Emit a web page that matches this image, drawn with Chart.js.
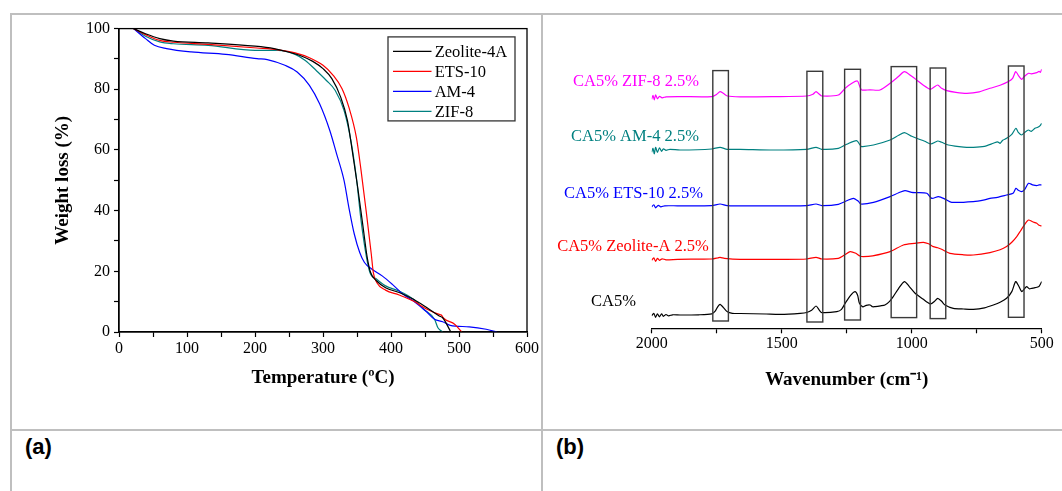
<!DOCTYPE html>
<html lang="en">
<head>
<meta charset="utf-8">
<title>TGA / FTIR</title>
<script src="https://cdn.jsdelivr.net/npm/chart.js@4.4.1/dist/chart.umd.min.js"></script>
<style>
body {margin:0; background:#fff; width:1062px; height:491px; overflow:hidden; position:relative;}
.rule {position:absolute; background:#bfbfbf;}
.tag {position:absolute; font:bold 22px 'Liberation Sans', Arial, sans-serif; line-height:22px;}
canvas {position:absolute;}
</style>
</head>
<body>
<!-- table lines -->
<div class="rule" style="left:10px;top:13px;width:1052px;height:2px"></div>
<div class="rule" style="left:10px;top:13px;width:2px;height:478px"></div>
<div class="rule" style="left:541px;top:13px;width:2px;height:478px"></div>
<div class="rule" style="left:10px;top:429px;width:1052px;height:2px"></div>
<div class="tag" style="left:25px;top:436px">(a)</div>
<div class="tag" style="left:556px;top:436px">(b)</div>

<canvas id="tga" width="529" height="414" style="left:12px;top:15px"></canvas>
<canvas id="ftir" width="519" height="414" style="left:543px;top:15px"></canvas>

<script>
// ---- (a) TGA : [temperature, weight %]
const tgaNames = ['Zeolite-4A', 'ETS-10', 'AM-4', 'ZIF-8'];
const zeolite4A = [[21.5,100],[39,98.3],[60,96.7],[80,95.9],[131,95.3],[200,94.2],[228,93.4],[249,92.3],[269,90.9],[285,89.2],[300,86.8],[313,83.5],[326,77.4],[336,69.7],[343,59.8],[351,47.7],[359,34.5],[365,24.6],[370,19.6],[379,16.8],[392,14.6],[412,13],[433,10.8],[453,8],[471,5.3],[476,4.7],[488,0]];
const ets10 = [[21.5,100],[39,98],[60,96.1],[80,95.5],[131,94.8],[203,93.6],[234,93],[259,92],[280,90.4],[300,87.9],[315,84.6],[328,80.2],[338,74.1],[349,64.2],[356,53.2],[364,38.9],[371,25.7],[374,19.6],[379,16.3],[392,13.8],[412,12.2],[433,10.2],[453,7.5],[471,5.8],[474,5.6],[477,4.6],[494,2.5],[504,0]];
const am4 = [[21.5,100],[39,96.7],[52,94.5],[70,93.4],[106,92.3],[157,91.5],[203,90.1],[218,89.8],[244,87.9],[262,85.7],[280,81.3],[295,75.2],[310,66.4],[320,58.7],[331,49.9],[338,41.1],[346,32.3],[354,26.2],[361,22.9],[372,20.7],[387,18.5],[402,15.7],[418,12.4],[433,10.2],[451,6.9],[464,4.2],[476,3.4],[487,2.2],[515,1.7],[540,0.9],[556,0]];
const zif8 = [[21.5,100],[39,97.5],[60,95.6],[80,95],[131,94.5],[200,92.8],[234,92.8],[259,91.5],[274,89.5],[290,86.2],[305,82.9],[318,79.6],[331,73],[341,63.1],[349,51],[356,36.7],[364,24.6],[369,19.6],[379,17.4],[392,15.2],[412,13.5],[433,10.8],[448,7.5],[464,4.2],[469,1.4],[476,0]];
const tgaColors = ['#000000', '#ff0000', '#0000ff', '#008080'];

// ---- (b) FTIR : [wavenumber, offset absorbance (a.u.)]
const irNames = ['CA5%', 'CA5% Zeolite-A 2.5%', 'CA5% ETS-10 2.5%', 'CA5% AM-4 2.5%', 'CA5% ZIF-8 2.5%'];
const irCA5 = [[2000,12.5],[1992,15],[1985,11],[1978,14.5],[1970,11.5],[1962,14.5],[1955,12],[1945,13.8],[1935,12.5],[1920,13.5],[1891,13.3],[1820,13.5],[1769,14.5],[1755,17.5],[1745,22],[1737,24],[1725,21],[1709,16.5],[1690,15],[1660,14.8],[1560,14.3],[1506,14],[1429,15],[1404,15.8],[1385,18],[1368,22.3],[1355,18],[1346,15.7],[1288,16.7],[1270,19],[1256,25],[1235,33],[1218,36.7],[1208,33],[1201,25],[1188,21.5],[1175,23],[1160,23.3],[1150,21.5],[1141,21.7],[1120,22.5],[1103,23.3],[1085,27],[1071,31.7],[1050,40],[1028,46.7],[1010,42],[987,35],[955,29],[940,26],[927,24.3],[912,27],[900,30],[885,27],[872,23.3],[840,20],[800,19.3],[763,19],[720,20.5],[686,23.3],[660,26],[635,30],[615,36.7],[600,46.7],[588,42],[577,36.7],[568,39],[558,41.7],[548,39.5],[538,40],[528,40.5],[519,41],[510,42],[500,46.7]];
const irZeoA = [[2000,68],[1992,70.5],[1985,67],[1978,70],[1970,68],[1960,69.5],[1945,68.5],[1900,69],[1769,69.3],[1745,70.5],[1737,71],[1720,70],[1660,69],[1500,69],[1404,69.3],[1368,71],[1346,69.3],[1282,70],[1260,73],[1237,76.7],[1215,75],[1199,72.3],[1186,71.7],[1150,72.5],[1083,76.7],[1032,83.3],[990,85],[955,86],[935,84.5],[917,81.7],[900,80.5],[885,79],[853,75],[800,73.5],[763,73.3],[699,75.7],[660,78.5],[635,81.7],[615,86],[596,91.7],[580,98],[565,104],[551,108.3],[535,106.5],[519,105],[510,103],[500,102.3]];
const irETS = [[2000,121.5],[1992,123.5],[1985,120.5],[1975,123],[1965,121.5],[1950,122.5],[1900,122.5],[1769,122.7],[1737,124.3],[1710,122.7],[1660,122.5],[1500,122.5],[1404,122.7],[1368,124.3],[1346,122.7],[1282,124],[1250,127.5],[1224,130],[1205,127],[1196,124.3],[1147,126],[1083,131.7],[1050,135.5],[1026,137.7],[1000,136],[981,135.7],[942,135],[923,130],[897,131.7],[870,129],[846,126],[763,126.7],[720,128.5],[699,130],[670,131],[635,133.3],[610,135],[599,140],[590,138],[577,136.7],[565,139],[551,145],[535,143.5],[519,142.7],[510,143.5],[500,143.3]];
const irAM4 = [[2000,176],[1995,180],[1990,174.5],[1985,181],[1978,176],[1970,180.5],[1962,177],[1955,179.5],[1945,178],[1930,179],[1891,178.3],[1769,179.3],[1737,181],[1710,179],[1660,179],[1532,178.3],[1404,179],[1368,181],[1346,179],[1282,180],[1250,184],[1212,187.7],[1195,182],[1188,181.7],[1147,183.3],[1083,188.3],[1050,193],[1028,195.7],[1000,192],[981,190],[950,187],[927,184.3],[900,187.3],[885,186],[859,183.3],[800,181.2],[763,181],[720,182],[686,185],[670,186.5],[660,185],[650,188],[635,190],[615,194],[599,200],[590,196],[577,193.3],[565,196],[551,198.3],[540,197],[526,200],[515,201],[505,203],[500,205]];
const irZIF8 = [[2000,229],[1995,233],[1990,228.5],[1985,233.5],[1978,229.5],[1970,232],[1960,230.5],[1945,231.5],[1891,231.7],[1769,231.7],[1750,234],[1737,236.7],[1725,235],[1709,232.3],[1660,231.5],[1532,231.7],[1404,232.3],[1380,234],[1368,236.7],[1355,234],[1346,232.3],[1282,233.3],[1256,240],[1230,245],[1209,247.3],[1200,242],[1192,238.3],[1160,238.5],[1122,238.3],[1083,245],[1050,252],[1028,256.7],[1000,252],[981,248.3],[955,243],[929,239],[915,241],[900,243.3],[885,240],[865,237.7],[830,236],[788,235],[740,236.5],[699,240],[660,243],[628,246.7],[612,250],[600,256.7],[590,253],[577,249],[568,251.5],[551,255],[540,254.5],[519,255.7],[510,257],[505,256],[500,259]];
const irColors = ['#000000', '#ff0000', '#0000ff', '#008080', '#ff00ff'];
// name of each spectrum sits at this level (same units as spectra)
const irNameLevels = [26.6, 81.6, 135, 191.6, 246.6];
// highlighted bands : [from, to] wavenumber, and height of each frame
const bandEdges = [[1765,1705],[1403,1342],[1258,1197],[1079,981],[929,869],[628,568]];
const bandTop = [257.7, 257, 259, 261.7, 260.3, 262.3];
const bandBottom = [7.3, 6.3, 8.3, 10.7, 9.7, 11];

Chart.defaults.font.family = "'Liberation Serif', 'Times New Roman', serif";
Chart.defaults.color = '#000';

function toXY(arr) {
	return arr.map(function (p) { return {x: p[0], y: p[1]}; });
}

// frame all round the plot of (a)
const boxFrame = {
	id: 'boxFrame',
	afterDraw(chart) {
		const a = chart.chartArea, ctx = chart.ctx;
		ctx.save();
		ctx.strokeStyle = '#000';
		ctx.lineWidth = 1.3;
		ctx.strokeRect(a.left, a.top, a.right - a.left, a.bottom - a.top);
		ctx.restore();
	}
};

// legend drawn inside the plot with a box
const boxLegend = {
	id: 'boxLegend',
	afterDraw(chart) {
		const a = chart.chartArea, ctx = chart.ctx;
		const w = 127, h = 84;
		const left = a.right - 12 - w, top = a.top + 8.3;
		ctx.save();
		ctx.fillStyle = '#fff';
		ctx.fillRect(left, top, w, h);
		ctx.strokeStyle = '#333';
		ctx.lineWidth = 1.3;
		ctx.strokeRect(left, top, w, h);
		ctx.font = "16.5px 'Liberation Serif'";
		ctx.textBaseline = 'middle';
		chart.data.datasets.forEach(function (ds, i) {
			const y = top + 14.5 + i * 20;
			ctx.strokeStyle = ds.borderColor;
			ctx.lineWidth = 1.3;
			ctx.beginPath();
			ctx.moveTo(left + 5, y);
			ctx.lineTo(left + 43.5, y);
			ctx.stroke();
			ctx.fillStyle = '#000';
			ctx.fillText(ds.label, left + 46.7, y + 1);
		});
		ctx.restore();
	}
};

// band frames and spectrum names for (b)
const bandFrames = {
	id: 'bandFrames',
	afterDraw(chart) {
		const ctx = chart.ctx, x = chart.scales.x, y = chart.scales.y;
		ctx.save();
		ctx.strokeStyle = '#3a3a3a';
		ctx.lineWidth = 1.4;
		bandEdges.forEach(function (b, i) {
			const x1 = x.getPixelForValue(b[0]), x2 = x.getPixelForValue(b[1]);
			const y1 = y.getPixelForValue(bandTop[i]), y2 = y.getPixelForValue(bandBottom[i]);
			ctx.strokeRect(x1, y1, x2 - x1, y2 - y1);
		});
		ctx.font = "16.5px 'Liberation Serif'";
		ctx.textAlign = 'center';
		ctx.textBaseline = 'middle';
		const shift = [38.2, 18.7, 18.2, 16.7, 15.7];
		chart.data.datasets.forEach(function (ds, i) {
			ctx.fillStyle = ds.borderColor;
			ctx.fillText(ds.label, chart.chartArea.left - shift[i], y.getPixelForValue(irNameLevels[i]));
		});
		ctx.restore();
	}
};

var tgaSeries = [zeolite4A, ets10, am4, zif8];
new Chart(document.getElementById('tga').getContext('2d'), {
	type: 'line',
	data: {
		datasets: tgaSeries.map(function (s, i) {
			return {label: tgaNames[i], data: toXY(s), borderColor: tgaColors[i], borderWidth: 1.2,
				pointRadius: 0, cubicInterpolationMode: 'monotone'};
		})
	},
	options: {
		responsive: false,
		animation: false,
		layout: {padding: {top: 12.7, right: 13, left: 0, bottom: 0}},
		plugins: {legend: {display: false}, tooltip: {enabled: false}},
		scales: {
			x: {
				type: 'linear', min: 0, max: 600,
				afterFit: function (s) { s.height = 97; },
				ticks: {stepSize: 50, autoSkip: false, maxRotation: 0, padding: 2, font: {size: 16},
					callback: function (v) { return v % 100 === 0 ? v : ''; }},
				grid: {drawOnChartArea: false, tickLength: 5, tickColor: '#000', tickWidth: 1.2},
				border: {color: '#000', width: 1.3},
				title: {display: true, text: 'Temperature (ºC)', font: {size: 19, weight: 'bold'}, padding: {top: 0, bottom: 39.6}}
			},
			y: {
				min: 0, max: 100,
				afterFit: function (s) { s.width = 107; },
				ticks: {stepSize: 10, autoSkip: false, padding: 4, font: {size: 16},
					callback: function (v) { return v % 20 === 0 ? v : ''; }},
				grid: {drawOnChartArea: false, tickLength: 5, tickColor: '#000', tickWidth: 1.2},
				border: {color: '#000', width: 1.3},
				title: {display: true, text: 'Weight loss (%)', font: {size: 19, weight: 'bold'}, padding: {top: 39.9, bottom: 0}}
			}
		}
	},
	plugins: [boxFrame, boxLegend]
});

var irSeries = [irCA5, irZeoA, irETS, irAM4, irZIF8];
new Chart(document.getElementById('ftir').getContext('2d'), {
	type: 'line',
	data: {
		datasets: irSeries.map(function (s, i) {
			return {label: irNames[i], data: toXY(s), borderColor: irColors[i], borderWidth: 1.2,
				pointRadius: 0, tension: 0.25};
		})
	},
	options: {
		responsive: false,
		animation: false,
		layout: {padding: {top: 13.3, right: 20.3, left: 108.7, bottom: 0}},
		plugins: {legend: {display: false}, tooltip: {enabled: false}},
		scales: {
			x: {
				type: 'linear', min: 500, max: 2000, reverse: true,
				afterFit: function (s) { s.height = 100.7; },
				ticks: {stepSize: 250, autoSkip: false, maxRotation: 0, padding: 1, font: {size: 16},
					callback: function (v) { return v % 500 === 0 ? v : ''; }},
				grid: {drawOnChartArea: false, tickLength: 5, tickColor: '#000', tickWidth: 1.2},
				border: {color: '#000', width: 1.3},
				title: {display: true, text: 'Wavenumber (cm⁻¹)', font: {size: 19, weight: 'bold'}, padding: {top: 0, bottom: 37.6}}
			},
			y: {display: false, min: 0, max: 300}
		}
	},
	plugins: [bandFrames]
});
</script>
</body>
</html>
